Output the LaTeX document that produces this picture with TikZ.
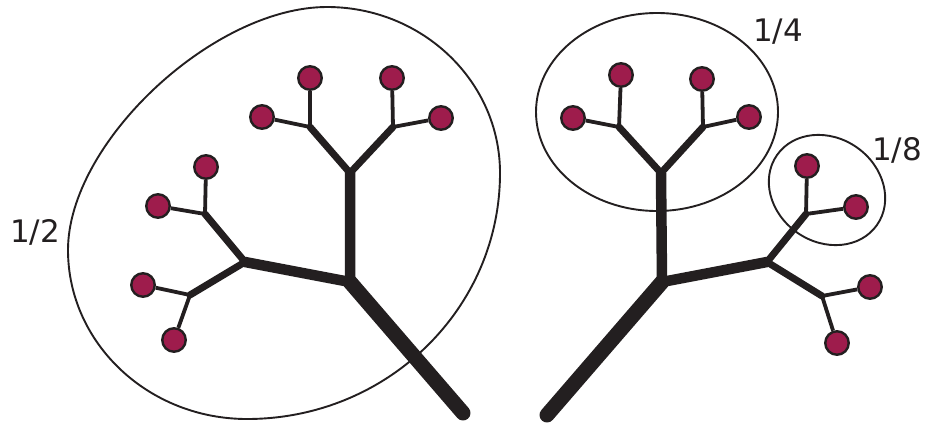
\documentclass[tikz,border=0pt]{standalone}
\usepackage{fontspec}
\usetikzlibrary{shapes.geometric}
\newfontfamily\labelfont{DejaVu Sans}
\definecolor{ink}{HTML}{231F20}
\definecolor{berry}{HTML}{9E1C4C}
\begin{document}
\begin{tikzpicture}[x=1pt,y=1pt,
  leaf/.style={circle, draw=ink, fill=berry, line width=2.4pt, minimum size=23.5pt, inner sep=0pt},
  wtrunk/.style={draw=ink, line width=15pt, line cap=round},
  wbig/.style={draw=ink, line width=10.5pt, line cap=round, line join=round},
  wmid/.style={draw=ink, line width=7pt, line cap=round, line join=round},
  wtwig/.style={draw=ink, line width=3.8pt},
  hull/.style={draw=ink, line width=1.9pt},
  lbl/.style={font=\labelfont\fontsize{31}{31}\selectfont, text=ink, inner sep=0pt}]
\useasboundingbox (0,0) rectangle (925,-423);

% ---------- left tree ----------
\coordinate (L0) at (463,-413);
\coordinate (L1) at (350,-282);
\coordinate (L2) at (350,-173);
\coordinate (L3) at (310,-127);
\coordinate (L4) at (393,-127);
\coordinate (L5) at (245,-262);
\coordinate (L6) at (205,-214);
\coordinate (L7) at (190,-295);

\path[hull] (327,-7) .. controls (422,-7) and (500,-81) .. (500,-173)
  .. controls (500,-309) and (387,-419) .. (247,-419)
  .. controls (148,-419) and (68,-343) .. (68,-250)
  .. controls (68,-143) and (213,-7) .. (327,-7) -- cycle;

\node[leaf] (la) at (310,-78) {};
\node[leaf] (lb) at (262,-117) {};
\node[leaf] (lc) at (392,-78) {};
\node[leaf] (ld) at (441,-118) {};
\node[leaf] (le) at (206,-167) {};
\node[leaf] (lf) at (158,-206) {};
\node[leaf] (lg) at (143,-285) {};
\node[leaf] (lh) at (174,-340) {};

\draw[wtwig] (L3) -- (la); \draw[wtwig] (L3) -- (lb);
\draw[wtwig] (L4) -- (lc); \draw[wtwig] (L4) -- (ld);
\draw[wtwig] (L6) -- (le); \draw[wtwig] (L6) -- (lf);
\draw[wtwig] (L7) -- (lg); \draw[wtwig] (L7) -- (lh);
\draw[wmid] (L3) -- (L2) -- (L4);
\draw[wmid] (L6) -- (L5) -- (L7);
\draw[wbig] (L5) -- (L1) -- (L2);
\draw[wtrunk] (L0) -- (L1);

% ---------- right tree ----------
\coordinate (R0) at (547,-415);
\coordinate (R1) at (662,-282);
\coordinate (R2) at (661,-173);
\coordinate (R3) at (619,-127);
\coordinate (R4) at (703,-127);
\coordinate (R5) at (767,-262);
\coordinate (R6) at (806,-214);
\coordinate (R7) at (822,-296);

\node[hull, ellipse, minimum width=242pt, minimum height=198pt, inner sep=0pt] (quarter) at (657,-112) {};
\path[hull] (827,-190) ellipse [x radius=61, y radius=52, rotate=-35];
\coordinate (eighth) at (827,-190);

\node[leaf] (ra) at (621,-75) {};
\node[leaf] (rb) at (573,-118) {};
\node[leaf] (rc) at (702,-79) {};
\node[leaf] (rd) at (749,-117) {};
\node[leaf] (re) at (807,-166) {};
\node[leaf] (rf) at (856,-207) {};
\node[leaf] (rg) at (870,-287) {};
\node[leaf] (rh) at (837,-343) {};

\draw[wtwig] (R3) -- (ra); \draw[wtwig] (R3) -- (rb);
\draw[wtwig] (R4) -- (rc); \draw[wtwig] (R4) -- (rd);
\draw[wtwig] (R6) -- (re); \draw[wtwig] (R6) -- (rf);
\draw[wtwig] (R7) -- (rg); \draw[wtwig] (R7) -- (rh);
\draw[wmid] (R3) -- (R2) -- (R4);
\draw[wmid] (R6) -- (R5) -- (R7);
\draw[wbig] (R5) -- (R1) -- (R2);
\draw[wtrunk] (R0) -- (R1);

% ---------- labels ----------
\node[lbl] (half) at (35,-232) {1/2};
\node[lbl] (quarterlbl) at (778,-32) {1/4};
\node[lbl] (eighthlbl) at (897,-150) {1/8};
\end{tikzpicture}
\end{document}
